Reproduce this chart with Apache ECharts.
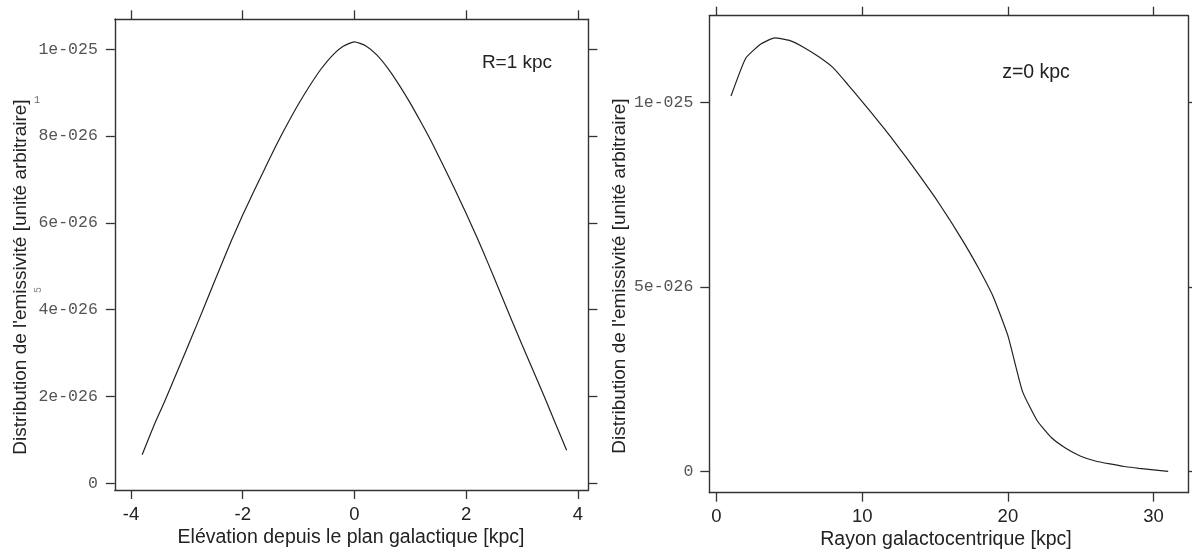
<!DOCTYPE html>
<html><head><meta charset="utf-8">
<script src="https://cdn.jsdelivr.net/npm/echarts@6/dist/echarts.min.js"></script>
<style>html,body{margin:0;background:#fff}#c{width:1192px;height:552px}</style>
</head><body><div id="c"></div>
<script>
// values of emissivity are expressed in units of 1e-26
const UNIT = 1e-26;
const zValues = [-3.8,-3.6,-3.4,-3.2,-3.0,-2.8,-2.6,-2.4,-2.2,-2.0,-1.8,-1.6,-1.4,-1.2,-1.0,-0.8,-0.6,-0.4,-0.2,0,
  0.2,0.4,0.6,0.8,1.0,1.2,1.4,1.6,1.8,2.0,2.2,2.4,2.6,2.8,3.0,3.2,3.4,3.6,3.8];
const emisZ = [0.66,1.3,1.88,2.49,3.1,3.72,4.35,4.98,5.6,6.18,6.73,7.26,7.79,8.28,8.74,9.16,9.54,9.85,10.07,10.17,
  10.08,9.87,9.56,9.18,8.76,8.3,7.82,7.3,6.77,6.22,5.65,5.05,4.43,3.81,3.2,2.6,2.0,1.38,0.76];
const rValues = [1,2,3,4,5,6,7,8,9,10,11,12,13,14,15,16,17,18,19,20,21,22,23,24,25,26,27,28,29,30,31];
const emisR = [10.18,11.2,11.58,11.76,11.69,11.5,11.25,10.95,10.5,10.03,9.55,9.05,8.53,7.99,7.43,6.83,6.19,5.5,4.73,3.68,
  2.17,1.38,0.91,0.62,0.41,0.28,0.2,0.13,0.08,0.04,0.0];

const leftXTicks = [-4,-2,0,2,4];
const leftXTickLabels = ['-4','-2','0','2','4'];
const leftYTicks = [0,2,4,6,8,10];
const leftYTickLabels = ['0','2e-026','4e-026','6e-026','8e-026','1e-025'];
const rightXTicks = [0,10,20,30];
const rightXTickLabels = ['0','10','20','30'];
const rightYTicks = [0,5,10];
const rightYTickLabels = ['0','5e-026','1e-025'];

const yTitle = "Distribution de l'emissivité [unité arbitraire]";
const leftXTitle = "Elévation depuis le plan galactique [kpc]";
const rightXTitle = "Rayon galactocentrique [kpc]";
const leftNote = "R=1 kpc";
const rightNote = "z=0 kpc";

const AX = '#333';
const lineAx = {show:true, onZero:false, lineStyle:{color:AX, width:1.4}};
function lab(ticks, labels){
  return v => { const i = ticks.findIndex(t => Math.abs(t - v) < 1e-6); return i >= 0 ? labels[i] : ''; };
}
function xAx(grid, min, max, ticks, labels, pos, show, margin){
  return {type:'value', gridIndex:grid, position:pos, min, max, splitLine:{show:false},
    axisLine:lineAx,
    axisTick:{show:true, inside:false, length:9, customValues:ticks, lineStyle:{color:AX, width:1.3}},
    axisLabel:{show:show, customValues:ticks, formatter:lab(ticks, labels), margin:margin,
      fontFamily:'Liberation Sans, Arial', fontSize:18.5, color:'#222'}};
}
function yAx(grid, min, max, ticks, labels, pos, show, margin){
  return {type:'value', gridIndex:grid, position:pos, min, max, splitLine:{show:false},
    axisLine:lineAx,
    axisTick:{show:true, inside:false, length:9, customValues:ticks, lineStyle:{color:AX, width:1.3}},
    axisLabel:{show:show, customValues:ticks, formatter:lab(ticks, labels), margin:margin,
      fontFamily:'Liberation Mono, Courier New, monospace', fontSize:16.5, color:'#555'}};
}

const chart = echarts.init(document.getElementById('c'), null, {renderer:'canvas'});
const txt = (x,y,text,size,extra) => Object.assign({type:'text', x, y, style:{text, fontFamily:'Liberation Sans, Arial', fontSize:size, fill:'#222', align:'center', verticalAlign:'middle'}}, extra||{});

chart.setOption({
  animation:false,
  backgroundColor:'#fff',
  grid:[
    {left:114.8, top:19.3, width:473.6, height:470.7},
    {left:709.3, top:15.7, width:479, height:477}
  ],
  xAxis:[
    xAx(0, -4.29, 4.19, leftXTicks, leftXTickLabels, 'bottom', true, 15),
    xAx(0, -4.29, 4.19, leftXTicks, leftXTickLabels, 'top', false, 8),
    xAx(1, -0.49, 32.38, rightXTicks, rightXTickLabels, 'bottom', true, 15),
    xAx(1, -0.49, 32.38, rightXTicks, rightXTickLabels, 'top', false, 8)
  ],
  yAxis:[
    yAx(0, -0.154, 10.691, leftYTicks, leftYTickLabels, 'left', true, 17),
    yAx(0, -0.154, 10.691, leftYTicks, leftYTickLabels, 'right', false, 8),
    yAx(1, -0.58, 12.36, rightYTicks, rightYTickLabels, 'left', true, 16),
    yAx(1, -0.58, 12.36, rightYTicks, rightYTickLabels, 'right', false, 8)
  ],
  series:[
    {type:'line', xAxisIndex:0, yAxisIndex:0, symbol:'none', smooth:0.2,
      data: zValues.map((z,i)=>[z, emisZ[i]]), lineStyle:{color:'#222', width:1.2}},
    {type:'line', xAxisIndex:2, yAxisIndex:2, symbol:'none', smooth:0.15,
      data: rValues.map((r,i)=>[r, emisR[i]]), lineStyle:{color:'#222', width:1.2}}
  ],
  graphic:[
    txt(351, 538, leftXTitle, 19.5),
    txt(946, 540, rightXTitle, 19.5),
    txt(21, 277, yTitle, 19, {rotation:Math.PI/2}),
    txt(620, 276, yTitle, 19, {rotation:Math.PI/2}),
    txt(517, 63, leftNote, 19),
    txt(1036, 73, rightNote, 19.5),
    {type:'text', x:34, y:95, style:{text:'1', fontFamily:'Liberation Mono', fontSize:10, fill:'#666'}},
    {type:'text', x:38, y:290, rotation:Math.PI/2, style:{text:'5', fontFamily:'Liberation Mono', fontSize:10, fill:'#888', align:'center', verticalAlign:'middle'}}
  ]
});
</script></body></html>
